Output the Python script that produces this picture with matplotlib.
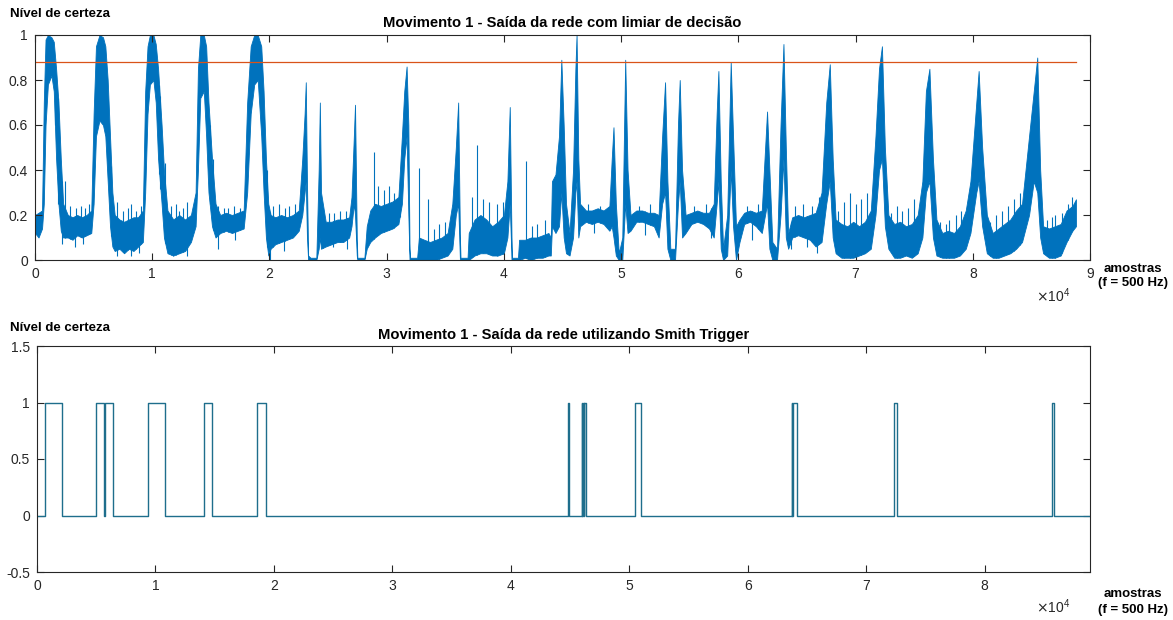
import numpy as np
import matplotlib
matplotlib.use("Agg")
import matplotlib.pyplot as plt

plt.rcParams['font.family'] = ['Liberation Sans', 'DejaVu Sans']

# ---- Network output (envelope of the noisy certainty signal), in samples ----
env_x = [0, 300, 600, 750, 900, 1100, 1400, 1600, 1800, 2000, 2200, 2400,
         2800, 3200, 3600, 4000, 4400, 4800,
         5000, 5200, 5500, 5800, 6000, 6200, 6400, 6600, 6800,
         7200, 7600, 8000, 8400, 8800, 9200,
         9400, 9600, 9800, 10100, 10300, 10500, 10800, 11000, 11300,
         11800, 12300, 12800, 13300, 13700,
         13900, 14100, 14400, 14600, 14800, 15100, 15400,
         15800, 16300, 16800, 17300, 17800,
         18100, 18400, 18700, 19000, 19300, 19500, 19700, 19900, 20100,
         20500, 21000, 21500, 22000, 22500,
         22800, 23000, 23100, 23200, 23300, 23500, 24000, 24200, 24300, 24400,
         24800, 25300, 25800, 26300, 26800, 27000,
         27200, 27300, 27450, 27500, 28100, 28300,
         28600, 29000, 29500, 30000, 30500, 31000, 31300,
         31500, 31700, 31850, 31950, 32000, 32600,
         32750, 33200, 33700, 34200, 34700, 35200, 35600,
         35900, 36100, 36250, 36300, 36900,
         37000, 37500, 38000, 38500, 39000, 39500, 40000, 40300,
         40500, 40650, 40700, 41200,
         41300, 41800, 42300, 42800, 43300, 43800, 44000,
         44100, 44400, 44700, 44900, 45100, 45300, 45600, 45900,
         46100, 46200, 46350, 46500,
         47000, 47500, 48000, 48500, 49000,
         49200, 49350, 49550, 49800, 50100, 50350, 50550, 50800,
         51300, 51800, 52300, 52800, 53200,
         53500, 53750, 53950, 54200, 54600, 54850, 55000, 55200, 55500,
         56000, 56500, 57000, 57500, 57900,
         58150, 58300, 58500, 58700, 59050, 59350, 59550, 59800, 60100,
         60500, 61000, 61500, 62000,
         62450, 62650, 62900, 63300, 63600, 63850, 64050, 64250,
         64600, 65100, 65600, 66100, 66600, 67100,
         67500, 67800, 68050, 68300,
         68800, 69300, 69800, 70300, 70800, 71300,
         71700, 72000, 72250, 72500, 72800,
         73300, 73800, 74300, 74800, 75300, 75700,
         76000, 76300, 76600, 76900,
         77400, 77900, 78400, 78900, 79400, 79800,
         80300, 80500, 80800, 81200,
         81700, 82200, 82700, 83200, 83700, 84200,
         84800, 85200, 85500, 85750, 86000,
         86500, 87000, 87500, 88000, 88500, 88800]

env_lo = [0.12, 0.10, 0.14, 0.25, 0.60, 0.78, 0.82, 0.75, 0.45, 0.25, 0.13, 0.10,
          0.10, 0.09, 0.11, 0.10, 0.11, 0.12,
          0.25, 0.55, 0.62, 0.60, 0.55, 0.35, 0.15, 0.06, 0.04,
          0.05, 0.03, 0.05, 0.04, 0.06, 0.08,
          0.30, 0.65, 0.78, 0.80, 0.70, 0.45, 0.25, 0.10, 0.03,
          0.02, 0.03, 0.04, 0.08, 0.15,
          0.40, 0.72, 0.75, 0.55, 0.30, 0.15, 0.10,
          0.12, 0.13, 0.12, 0.13, 0.14,
          0.30, 0.65, 0.78, 0.80, 0.55, 0.30, 0.10, 0.02, 0.05,
          0.07, 0.08, 0.09, 0.10, 0.13,
          0.20, 0.30, 0.35, 0.10, 0.00, 0.00, 0.00, 0.05, 0.10, 0.05,
          0.06, 0.07, 0.08, 0.08, 0.10, 0.15,
          0.25, 0.20, 0.02, 0.00, 0.00, 0.05,
          0.08, 0.10, 0.12, 0.13, 0.14, 0.16, 0.25,
          0.45, 0.55, 0.20, 0.00, 0.00, 0.00,
          0.00, 0.00, 0.00, 0.00, 0.01, 0.02, 0.05,
          0.20, 0.25, 0.00, 0.00, 0.00,
          0.00, 0.02, 0.03, 0.03, 0.02, 0.02, 0.03, 0.10,
          0.25, 0.00, 0.00, 0.00,
          0.00, 0.01, 0.00, 0.01, 0.01, 0.02, 0.02,
          0.15, 0.12, 0.15, 0.30, 0.10, 0.03, 0.02, 0.10,
          0.30, 0.35, 0.10, 0.15,
          0.17, 0.16, 0.17, 0.16, 0.13,
          0.15, 0.10, 0.02, 0.00, 0.00, 0.25, 0.12, 0.13,
          0.17, 0.17, 0.16, 0.15, 0.10,
          0.25, 0.30, 0.05, 0.00, 0.00, 0.25, 0.35, 0.10, 0.12,
          0.16, 0.17, 0.16, 0.14, 0.10,
          0.25, 0.35, 0.05, 0.00, 0.02, 0.40, 0.15, 0.00, 0.08,
          0.16, 0.17, 0.15, 0.12,
          0.25, 0.05, 0.00, 0.00, 0.20, 0.45, 0.10, 0.05,
          0.10, 0.11, 0.10, 0.09, 0.06, 0.08,
          0.25, 0.35, 0.10, 0.03,
          0.01, 0.01, 0.01, 0.02, 0.03, 0.05,
          0.20, 0.40, 0.45, 0.15, 0.05,
          0.01, 0.01, 0.02, 0.01, 0.03, 0.10,
          0.30, 0.35, 0.10, 0.02,
          0.01, 0.01, 0.01, 0.02, 0.05, 0.12,
          0.30, 0.35, 0.15, 0.03,
          0.01, 0.01, 0.02, 0.03, 0.05, 0.08,
          0.20, 0.35, 0.30, 0.10, 0.03,
          0.01, 0.01, 0.02, 0.08, 0.13, 0.15]

env_hi = [0.20, 0.21, 0.22, 0.70, 0.98, 1.00, 0.99, 0.97, 0.85, 0.70, 0.45, 0.25,
          0.20, 0.19, 0.20, 0.19, 0.20, 0.22,
          0.65, 0.95, 1.00, 0.99, 0.95, 0.80, 0.55, 0.30, 0.20,
          0.18, 0.17, 0.18, 0.19, 0.19, 0.22,
          0.75, 0.95, 1.00, 1.00, 0.96, 0.85, 0.60, 0.40, 0.22,
          0.18, 0.20, 0.18, 0.20, 0.30,
          0.85, 1.00, 1.00, 0.95, 0.70, 0.45, 0.25,
          0.20, 0.21, 0.20, 0.21, 0.22,
          0.70, 0.95, 1.00, 1.00, 0.95, 0.75, 0.45, 0.25, 0.20,
          0.19, 0.20, 0.19, 0.20, 0.22,
          0.45, 0.65, 0.79, 0.35, 0.02, 0.01, 0.01, 0.40, 0.70, 0.30,
          0.17, 0.17, 0.18, 0.18, 0.19, 0.28,
          0.55, 0.69, 0.10, 0.01, 0.01, 0.15,
          0.22, 0.25, 0.24, 0.25, 0.26, 0.28, 0.55,
          0.75, 0.86, 0.60, 0.05, 0.01, 0.01,
          0.10, 0.09, 0.08, 0.09, 0.10, 0.12, 0.25,
          0.50, 0.70, 0.10, 0.01, 0.01,
          0.12, 0.18, 0.20, 0.18, 0.15, 0.17, 0.20, 0.35,
          0.68, 0.10, 0.01, 0.01,
          0.09, 0.09, 0.10, 0.10, 0.11, 0.12, 0.10,
          0.35, 0.38, 0.55, 0.89, 0.60, 0.25, 0.12, 0.40,
          0.85, 1.00, 0.45, 0.25,
          0.22, 0.22, 0.23, 0.22, 0.24,
          0.45, 0.59, 0.25, 0.03, 0.10, 0.89, 0.40, 0.20,
          0.22, 0.22, 0.21, 0.21, 0.20,
          0.55, 0.79, 0.35, 0.05, 0.05, 0.60, 0.80, 0.40, 0.20,
          0.21, 0.22, 0.21, 0.21, 0.25,
          0.65, 0.84, 0.35, 0.05, 0.20, 0.88, 0.55, 0.15, 0.18,
          0.21, 0.22, 0.21, 0.22,
          0.66, 0.40, 0.08, 0.05, 0.60, 0.96, 0.50, 0.12,
          0.19, 0.20, 0.19, 0.20, 0.21, 0.30,
          0.70, 0.87, 0.45, 0.18,
          0.16, 0.15, 0.17, 0.15, 0.17, 0.22,
          0.55, 0.85, 0.95, 0.50, 0.20,
          0.16, 0.17, 0.15, 0.16, 0.20, 0.35,
          0.75, 0.85, 0.45, 0.18,
          0.12, 0.13, 0.12, 0.15, 0.22, 0.35,
          0.70, 0.84, 0.50, 0.20,
          0.12, 0.14, 0.16, 0.18, 0.22, 0.25,
          0.55, 0.75, 0.90, 0.40, 0.15,
          0.14, 0.15, 0.16, 0.22, 0.24, 0.27]

# Isolated upward spikes rising out of the band
spike_x = [1700, 2000, 2600, 3000, 3500, 3900, 4300, 4600, 6500, 7000, 7500,
           7900, 8200, 8600, 9000, 10600, 10700, 11100, 11600, 12000, 12300,
           12600, 13000, 14900, 15200, 15600, 16100, 16500, 17000, 17500,
           19800, 20300, 20800, 21300, 21700, 22200, 24600, 25100, 25500,
           26000, 26500, 28900, 29300, 29800, 30200, 30600, 31100, 32800,
           33500, 34000, 34500, 35000, 37300, 37700, 38200, 38700, 39400,
           39900, 41900, 42400, 42800, 43500, 47200, 48200, 51500, 52500,
           56200, 57200, 60700, 61700, 64800, 65500, 66300, 66900, 68500,
           69000, 69500, 70000, 70500, 71000, 73000, 73500, 74000, 74500,
           75000, 77200, 77700, 78000, 78600, 79000, 81500, 82000, 82500,
           83000, 83500, 84000, 86300, 86800, 87000, 87600, 88100, 88500]
spike_top = [0.80, 0.72, 0.35, 0.24, 0.23, 0.24, 0.23, 0.25, 0.42, 0.26, 0.22,
             0.23, 0.25, 0.22, 0.24, 0.78, 0.73, 0.43, 0.24, 0.25, 0.22,
             0.23, 0.26, 0.60, 0.45, 0.24, 0.23, 0.23, 0.24, 0.23,
             0.40, 0.24, 0.25, 0.23, 0.24, 0.25, 0.22, 0.21, 0.21,
             0.22, 0.22, 0.48, 0.33, 0.31, 0.33, 0.30, 0.32, 0.41,
             0.27, 0.14, 0.16, 0.17, 0.28, 0.51, 0.27, 0.26, 0.25,
             0.26, 0.44, 0.15, 0.16, 0.18, 0.25, 0.24, 0.24, 0.25,
             0.24, 0.25, 0.24, 0.25, 0.24, 0.25, 0.24, 0.28, 0.22,
             0.26, 0.30, 0.25, 0.27, 0.30, 0.21, 0.24, 0.22, 0.23,
             0.27, 0.17, 0.16, 0.18, 0.20, 0.22, 0.17, 0.20, 0.22,
             0.24, 0.27, 0.30, 0.18, 0.19, 0.20, 0.21, 0.25, 0.28]

# Downward spikes reaching below the band
dip_x = [2300, 3400, 4100, 7000, 8150, 8900, 11800, 12940, 15640, 17100,
         20050, 21200, 25450, 26600, 47700, 52000, 57700, 61200, 64500,
         65900, 66700]
dip_bot = [0.07, 0.06, 0.07, 0.02, 0.02, 0.03, 0.02, 0.02, 0.05, 0.09,
           0.00, 0.04, 0.06, 0.05, 0.12, 0.11, 0.10, 0.09, 0.05,
           0.06, 0.03]

threshold = 0.88
n_samples = 88800

# ---- Schmitt trigger output: (on, off) sample pairs of the pulses ----
pulse_on = [650, 5000, 5750, 9400, 14100, 18550, 44850, 45980, 46090, 46170,
            50450, 63700, 63820, 72350, 85650]
pulse_off = [2150, 5650, 6450, 10800, 14750, 19350, 44950, 46030, 46140, 46330,
             51000, 63780, 64150, 72600, 85850]
trig_len = 88900

top_ticks = [0, 1, 2, 3, 4, 5, 6, 7, 8, 9]
bot_ticks = [0, 1, 2, 3, 4, 5, 6, 7, 8]

BLUE = '#0072BD'
ORANGE = '#D95319'
TEAL = '#1E6E8C'
AXC = '#262626'

fig = plt.figure(figsize=(11.73, 6.2), dpi=100)
W, H = 1173, 620
ax1 = fig.add_axes([35 / W, 1 - 260 / H, (1090 - 35) / W, (260 - 35) / H])
ax2 = fig.add_axes([37 / W, 1 - 572 / H, (1090 - 37) / W, (572 - 346) / H])


def style(ax):
    for s in ax.spines.values():
        s.set_color(AXC)
        s.set_linewidth(0.8)
    ax.tick_params(direction='in', top=True, right=True, length=5,
                   width=0.8, color=AXC, labelcolor=AXC, labelsize=10, pad=5)


# Top panel
ex = np.array(env_x, dtype=float)
lo = np.array(env_lo)
hi = np.array(env_hi)
ax1.fill_between(ex, lo, hi, color=BLUE, linewidth=0.6, edgecolor=BLUE)
sx = np.array(spike_x, dtype=float)
ax1.vlines(sx, np.interp(sx, ex, lo), spike_top, color=BLUE, linewidth=0.8)
dx = np.array(dip_x, dtype=float)
ax1.vlines(dx, dip_bot, np.interp(dx, ex, hi), color=BLUE, linewidth=0.8)
ax1.plot([0, n_samples], [threshold, threshold], color=ORANGE, linewidth=0.9)
ax1.set_xlim(0, 90000)
ax1.set_ylim(0, 1)
ax1.set_xticks([t * 1e4 for t in top_ticks])
ax1.set_xticklabels([str(t) for t in top_ticks])
ax1.set_yticks([0, 0.2, 0.4, 0.6, 0.8, 1])
ax1.set_yticklabels(['0', '0.2', '0.4', '0.6', '0.8', '1'])
style(ax1)
ax1.set_title('Movimento 1 - Saída da rede com limiar de decisão',
              fontsize=10.6, fontweight='bold', pad=6, color='black')

# Bottom panel: step signal built from pulse edges
tx = [0]
ty = [0]
for a, b in zip(pulse_on, pulse_off):
    tx += [a, a, b, b]
    ty += [0, 1, 1, 0]
tx.append(trig_len)
ty.append(0)
ax2.plot(tx, ty, color=TEAL, linewidth=1.0)
ax2.set_xlim(0, trig_len)
ax2.set_ylim(-0.5, 1.5)
ax2.set_xticks([t * 1e4 for t in bot_ticks])
ax2.set_xticklabels([str(t) for t in bot_ticks])
ax2.set_yticks([-0.5, 0, 0.5, 1, 1.5])
ax2.set_yticklabels(['-0.5', '0', '0.5', '1', '1.5'])
style(ax2)
ax2.set_title('Movimento 1 - Saída da rede utilizando Smith Trigger',
              fontsize=10.6, fontweight='bold', pad=5, color='black')

# Axis annotations
fig.text(10 / W, 1 - 14 / H, 'Nível de certeza', fontsize=9.5,
         fontweight='bold', va='center', ha='left')
fig.text(10 / W, 1 - 328 / H, 'Nível de certeza', fontsize=9.5,
         fontweight='bold', va='center', ha='left')
fig.text(1133 / W, 1 - 276 / H, 'amostras\n(f = 500 Hz)', fontsize=9.5,
         fontweight='bold', va='center', ha='center', linespacing=1.3)
fig.text(1133 / W, 1 - 602 / H, 'amostras\n(f = 500 Hz)', fontsize=9.5,
         fontweight='bold', va='center', ha='center', linespacing=1.45)
for yc in (296, 607):
    fig.text(1070 / W, 1 - yc / H, r'$\times\mathregular{10^{4}}$',
             fontsize=10, color=AXC, va='center', ha='right')

fig.savefig('out.png', dpi=100)
